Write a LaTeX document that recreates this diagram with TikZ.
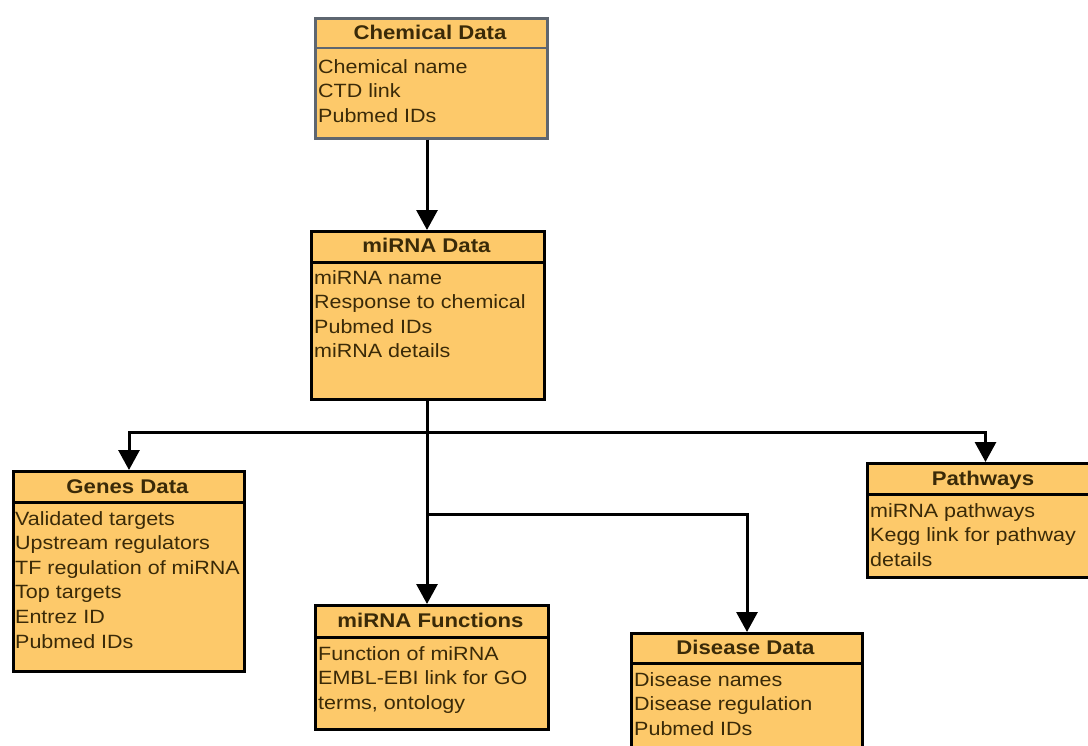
\documentclass[tikz,border=0pt]{standalone}
\usepackage{fontspec}
\setmainfont{Liberation Sans}[FakeStretch=1.12]
\usetikzlibrary{arrows.meta}
\definecolor{boxfill}{HTML}{FDC96A}
\definecolor{txt}{HTML}{3A2A08}
\definecolor{chemborder}{HTML}{5E6670}
\newcommand\bodylines[1]{\vtop{\baselineskip=24.6pt\lineskiplimit=-20pt\lineskip=0pt #1}}
\begin{document}
\begin{tikzpicture}[x=1pt,y=-1pt,
  entity/.style={draw=black, line width=3pt, fill=boxfill, rectangle, inner sep=0pt, anchor=north west},
  hline/.style={line width=3pt},
  title/.style={anchor=base, inner sep=0pt, text=txt, font=\fontsize{19.8}{24.6}\selectfont\bfseries},
  body/.style={anchor=base west, inner sep=0pt, text=txt, font=\fontsize{19.2}{24.6}\selectfont},
  conn/.style={line width=3pt, -{Triangle[length=20pt,width=21pt]}},
]
\useasboundingbox (0,0) rectangle (1088,745);
\clip (0,0) rectangle (1088,745);
\fill[white] (0,0) rectangle (1088,745);

% Chemical Data
\node[entity, draw=chemborder, line width=2.5pt, minimum width=232pt, minimum height=120pt] (chem) at (314,17) {};
\draw[hline, draw=chemborder, line width=2.5pt] (314,48) -- (546,48);
\node[title] (chemT) at (430,39) {Chemical Data};
\node[body] (chemB) at (318,73) {\bodylines{\hbox{Chemical name}\hbox{CTD link}\hbox{Pubmed IDs}}};

% miRNA Data
\node[entity, minimum width=233pt, minimum height=168pt] (mirna) at (310,230) {};
\draw[hline] (310,262) -- (543,262);
\node[title] (mirnaT) at (426.5,252) {miRNA Data};
\node[body] (mirnaB) at (314,284) {\bodylines{\hbox{miRNA name}\hbox{Response to chemical}\hbox{Pubmed IDs}\hbox{miRNA details}}};

% Genes Data
\node[entity, minimum width=231pt, minimum height=200pt] (genes) at (12,470) {};
\draw[hline] (12,502) -- (243,502);
\node[title] (genesT) at (127.5,493) {Genes Data};
\node[body] (genesB) at (15,525) {\bodylines{\hbox{Validated targets}\hbox{Upstream regulators}\hbox{TF regulation of miRNA}\hbox{Top targets}\hbox{Entrez ID}\hbox{Pubmed IDs}}};

% miRNA Functions
\node[entity, minimum width=233pt, minimum height=124pt] (func) at (314,604) {};
\draw[hline] (314,637) -- (547,637);
\node[title] (funcT) at (430.5,627) {miRNA Functions};
\node[body] (funcB) at (318,660) {\bodylines{\hbox{Function of miRNA}\hbox{EMBL-EBI link for GO}\hbox{terms, ontology}}};

% Disease Data
\node[entity, minimum width=231pt, minimum height=130pt] (dis) at (630,632) {};
\draw[hline] (630,663) -- (861,663);
\node[title] (disT) at (745.5,654) {Disease Data};
\node[body] (disB) at (634,686) {\bodylines{\hbox{Disease names}\hbox{Disease regulation}\hbox{Pubmed IDs}}};

% Pathways
\node[entity, minimum width=236pt, minimum height=114pt] (path) at (866,462) {};
\draw[hline] (866,494) -- (1102,494);
\node[title] (pathT) at (983,485) {Pathways};
\node[body] (pathB) at (870,517) {\bodylines{\hbox{miRNA pathways}\hbox{Kegg link for pathway}\hbox{details}}};

% connectors
\coordinate (j1) at (427,432);
\coordinate (j2) at (427,514);
\draw[conn] (chem.south -| 427,0) -- (mirna.north -| 427,0);
\draw[conn] (mirna.south -| j1) -- (func.north -| j1);
\draw[conn] (j1) -| (genes.north);
\draw[conn] (j1) -| (path.north);
\draw[conn] (j2) -| (dis.north);
\end{tikzpicture}
\end{document}
